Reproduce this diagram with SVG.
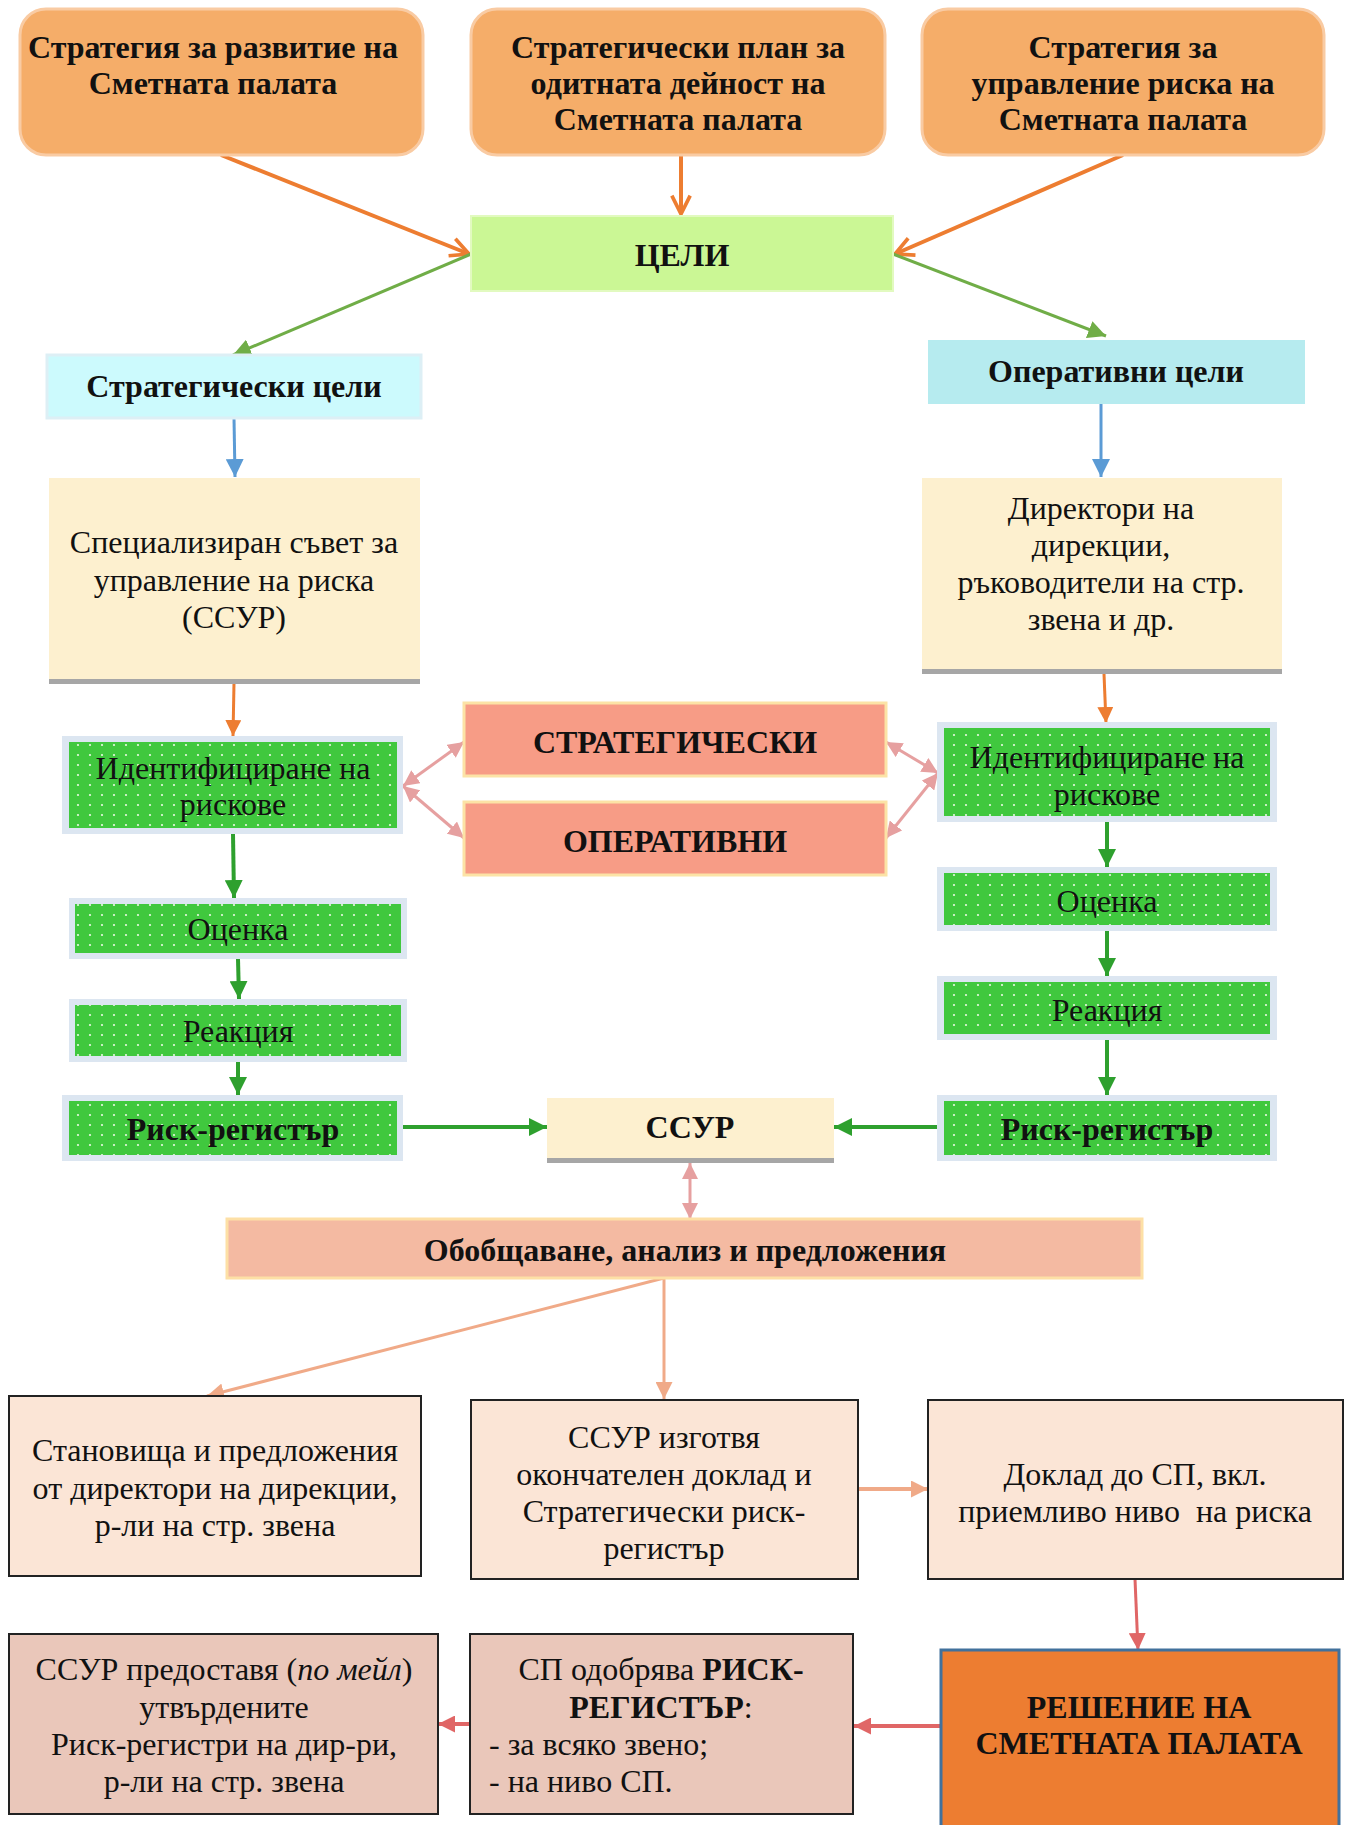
<svg xmlns="http://www.w3.org/2000/svg" width="1348" height="1825" viewBox="0 0 1348 1825">
<style>
text{font-family:"Liberation Serif","Times New Roman",serif;font-size:32px;fill:#111;text-anchor:middle}
.b{font-weight:bold}
.top{fill:#F5AD69;stroke:#F9CBA3;stroke-width:3}
.cream{fill:#FDF0CF}
.shadow{fill:#A6A6A6}
.grn{fill:url(#dots)}
.gout{fill:#DCE6F1}
.sal{fill:#F79C86;stroke:#FCE3A6;stroke-width:3}
.btm{fill:#FBE5D6;stroke:#222;stroke-width:2}
.btm2{fill:#EAC7BA;stroke:#222;stroke-width:2}
.c{fill:none}
</style>
<defs>
<pattern id="dots" width="12" height="10" patternUnits="userSpaceOnUse">
<rect width="12" height="10" fill="#40C83E"/>
<circle cx="6" cy="5" r="1.1" fill="#E8F8E0"/>
</pattern>
<marker id="oOpen" viewBox="0 0 12 12" refX="11" refY="6" markerWidth="22" markerHeight="22" markerUnits="userSpaceOnUse" orient="auto"><path d="M1,1 L11,6 L1,11" fill="none" stroke="#ED7D31" stroke-width="2"/></marker>
<marker id="oFill" viewBox="0 0 10 10" refX="10" refY="5" markerWidth="16" markerHeight="16" markerUnits="userSpaceOnUse" orient="auto"><path d="M0,0 L10,5 L0,10 z" fill="#ED7D31"/></marker>
<marker id="gLt" viewBox="0 0 10 10" refX="10" refY="5" markerWidth="18" markerHeight="18" markerUnits="userSpaceOnUse" orient="auto"><path d="M0,0 L10,5 L0,10 z" fill="#70AD47"/></marker>
<marker id="bl" viewBox="0 0 10 10" refX="10" refY="5" markerWidth="18" markerHeight="18" markerUnits="userSpaceOnUse" orient="auto"><path d="M0,0 L10,5 L0,10 z" fill="#5B9BD5"/></marker>
<marker id="gDk" viewBox="0 0 10 10" refX="10" refY="5" markerWidth="18" markerHeight="18" markerUnits="userSpaceOnUse" orient="auto"><path d="M0,0 L10,5 L0,10 z" fill="#2EA02E"/></marker>
<marker id="pk" viewBox="0 0 10 10" refX="10" refY="5" markerWidth="16" markerHeight="16" markerUnits="userSpaceOnUse" orient="auto-start-reverse"><path d="M0,0 L10,5 L0,10 z" fill="#E6A0A0"/></marker>
<marker id="sm" viewBox="0 0 10 10" refX="10" refY="5" markerWidth="17" markerHeight="17" markerUnits="userSpaceOnUse" orient="auto"><path d="M0,0 L10,5 L0,10 z" fill="#F0AA88"/></marker>
<marker id="rd" viewBox="0 0 10 10" refX="10" refY="5" markerWidth="17" markerHeight="17" markerUnits="userSpaceOnUse" orient="auto"><path d="M0,0 L10,5 L0,10 z" fill="#E06666"/></marker>
</defs>
<rect width="1348" height="1825" fill="#fff"/>

<g id="connectors" class="c">
<line x1="221" y1="155" x2="469" y2="254" stroke="#ED7D31" stroke-width="4" marker-end="url(#oOpen)"/>
<line x1="681" y1="155" x2="681" y2="214" stroke="#ED7D31" stroke-width="4" marker-end="url(#oOpen)"/>
<line x1="1123" y1="155" x2="895" y2="254" stroke="#ED7D31" stroke-width="4" marker-end="url(#oOpen)"/>
<line x1="471" y1="254" x2="233" y2="355" stroke="#70AD47" stroke-width="3" marker-end="url(#gLt)"/>
<line x1="893" y1="254" x2="1106" y2="336" stroke="#70AD47" stroke-width="3" marker-end="url(#gLt)"/>
<line x1="234" y1="418" x2="235" y2="477" stroke="#5B9BD5" stroke-width="3" marker-end="url(#bl)"/>
<line x1="1101" y1="404" x2="1101" y2="477" stroke="#5B9BD5" stroke-width="3" marker-end="url(#bl)"/>
<line x1="234" y1="683" x2="233" y2="736" stroke="#ED7D31" stroke-width="3" marker-end="url(#oFill)"/>
<line x1="1104" y1="674" x2="1106" y2="723" stroke="#ED7D31" stroke-width="3" marker-end="url(#oFill)"/>
<line x1="233" y1="834" x2="234" y2="898" stroke="#2EA02E" stroke-width="4" marker-end="url(#gDk)"/>
<line x1="238" y1="959" x2="239" y2="999" stroke="#2EA02E" stroke-width="4" marker-end="url(#gDk)"/>
<line x1="238" y1="1062" x2="238" y2="1095" stroke="#2EA02E" stroke-width="4" marker-end="url(#gDk)"/>
<line x1="1107" y1="822" x2="1107" y2="867" stroke="#2EA02E" stroke-width="4" marker-end="url(#gDk)"/>
<line x1="1107" y1="931" x2="1107" y2="976" stroke="#2EA02E" stroke-width="4" marker-end="url(#gDk)"/>
<line x1="1107" y1="1040" x2="1107" y2="1095" stroke="#2EA02E" stroke-width="4" marker-end="url(#gDk)"/>
<line x1="403" y1="1127" x2="547" y2="1127" stroke="#2EA02E" stroke-width="4" marker-end="url(#gDk)"/>
<line x1="938" y1="1127" x2="834" y2="1127" stroke="#2EA02E" stroke-width="4" marker-end="url(#gDk)"/>
<line x1="403" y1="786" x2="464" y2="742" stroke="#E6A0A0" stroke-width="3" marker-start="url(#pk)" marker-end="url(#pk)"/>
<line x1="403" y1="786" x2="464" y2="838" stroke="#E6A0A0" stroke-width="3" marker-start="url(#pk)" marker-end="url(#pk)"/>
<line x1="938" y1="773" x2="886" y2="742" stroke="#E6A0A0" stroke-width="3" marker-start="url(#pk)" marker-end="url(#pk)"/>
<line x1="938" y1="773" x2="886" y2="838" stroke="#E6A0A0" stroke-width="3" marker-start="url(#pk)" marker-end="url(#pk)"/>
<line x1="690" y1="1163" x2="690" y2="1219" stroke="#E6A0A0" stroke-width="3" marker-start="url(#pk)" marker-end="url(#pk)"/>
<line x1="664" y1="1278" x2="207" y2="1396" stroke="#F0AA88" stroke-width="3" marker-end="url(#sm)"/>
<line x1="664" y1="1278" x2="664" y2="1399" stroke="#F0AA88" stroke-width="3" marker-end="url(#sm)"/>
<line x1="858" y1="1489" x2="928" y2="1489" stroke="#F0AA88" stroke-width="4" marker-end="url(#sm)"/>
<line x1="1135" y1="1579" x2="1138" y2="1650" stroke="#E06666" stroke-width="3" marker-end="url(#rd)"/>
<line x1="941" y1="1726" x2="854" y2="1726" stroke="#E06666" stroke-width="4" marker-end="url(#rd)"/>
<line x1="470" y1="1724" x2="438" y2="1724" stroke="#E06666" stroke-width="4" marker-end="url(#rd)"/>
</g>

<g id="n-strategy-dev">
<rect class="top" x="20" y="9" width="403" height="146" rx="26"/>
<text class="b" x="213" y="58">Стратегия за развитие на</text>
<text class="b" x="213" y="94">Сметната палата</text>
</g>
<g id="n-strategic-plan">
<rect class="top" x="471" y="9" width="414" height="146" rx="26"/>
<text class="b" x="678" y="58">Стратегически план за</text>
<text class="b" x="678" y="94">одитната дейност на</text>
<text class="b" x="678" y="130">Сметната палата</text>
</g>
<g id="n-risk-strategy">
<rect class="top" x="922" y="9" width="402" height="146" rx="26"/>
<text class="b" x="1123" y="58">Стратегия за</text>
<text class="b" x="1123" y="94">управление риска на</text>
<text class="b" x="1123" y="130">Сметната палата</text>
</g>
<g id="n-goals">
<rect x="471" y="216" width="422" height="75" fill="#CBF795" stroke="#E2FAC0" stroke-width="2"/>
<text class="b" x="682" y="266">ЦЕЛИ</text>
</g>
<g id="n-strategic-goals">
<rect x="47" y="355" width="374" height="63" fill="#CCFAFD" stroke="#DDEFF5" stroke-width="3"/>
<text class="b" x="234" y="397">Стратегически цели</text>
</g>
<g id="n-operational-goals">
<rect x="928" y="340" width="377" height="64" fill="#B6EBEF"/>
<text class="b" x="1116" y="382">Оперативни цели</text>
</g>
<g id="n-council">
<rect class="cream" x="49" y="478" width="371" height="201"/>
<rect class="shadow" x="49" y="679" width="371" height="5"/>
<text x="234" y="553">Специализиран съвет за</text>
<text x="234" y="591">управление на риска</text>
<text x="234" y="628">(ССУР)</text>
</g>
<g id="n-directors">
<rect class="cream" x="922" y="478" width="360" height="191"/>
<rect class="shadow" x="922" y="669" width="360" height="5"/>
<text x="1101" y="519">Директори на</text>
<text x="1101" y="556">дирекции,</text>
<text x="1101" y="593">ръководители на стр.</text>
<text x="1101" y="630">звена и др.</text>
</g>
<g id="n-ident-left">
<rect class="gout" x="62" y="736" width="341" height="98"/>
<rect class="grn" x="69" y="742" width="328" height="86"/>
<text x="233" y="779">Идентифициране на</text>
<text x="233" y="815">рискове</text>
</g>
<g id="n-assess-left">
<rect class="gout" x="69" y="898" width="338" height="61"/>
<rect class="grn" x="75" y="904" width="326" height="49"/>
<text x="238" y="940">Оценка</text>
</g>
<g id="n-react-left">
<rect class="gout" x="69" y="999" width="338" height="63"/>
<rect class="grn" x="75" y="1005" width="326" height="51"/>
<text x="238" y="1042">Реакция</text>
</g>
<g id="n-register-left">
<rect class="gout" x="62" y="1095" width="341" height="66"/>
<rect class="grn" x="69" y="1101" width="328" height="54"/>
<text class="b" x="233" y="1140">Риск-регистър</text>
</g>
<g id="n-ident-right">
<rect class="gout" x="937" y="722" width="340" height="100"/>
<rect class="grn" x="944" y="728" width="326" height="88"/>
<text x="1107" y="768">Идентифициране на</text>
<text x="1107" y="805">рискове</text>
</g>
<g id="n-assess-right">
<rect class="gout" x="937" y="867" width="340" height="64"/>
<rect class="grn" x="944" y="873" width="326" height="52"/>
<text x="1107" y="912">Оценка</text>
</g>
<g id="n-react-right">
<rect class="gout" x="937" y="976" width="340" height="64"/>
<rect class="grn" x="944" y="982" width="326" height="52"/>
<text x="1107" y="1021">Реакция</text>
</g>
<g id="n-register-right">
<rect class="gout" x="937" y="1095" width="340" height="66"/>
<rect class="grn" x="944" y="1101" width="326" height="54"/>
<text class="b" x="1107" y="1140">Риск-регистър</text>
</g>
<g id="n-strategic">
<rect class="sal" x="464" y="703" width="422" height="73"/>
<text class="b" x="675" y="753">СТРАТЕГИЧЕСКИ</text>
</g>
<g id="n-operational">
<rect class="sal" x="464" y="802" width="422" height="73"/>
<text class="b" x="675" y="852">ОПЕРАТИВНИ</text>
</g>
<g id="n-ssur">
<rect class="cream" x="547" y="1098" width="287" height="60"/>
<rect class="shadow" x="547" y="1158" width="287" height="5"/>
<text class="b" x="690" y="1138">ССУР</text>
</g>
<g id="n-summary">
<rect x="227" y="1219" width="915" height="59" fill="#F4BAA2" stroke="#FDE0A6" stroke-width="3"/>
<text class="b" x="685" y="1261">Обобщаване, анализ и предложения</text>
</g>
<g id="n-opinions">
<rect class="btm" x="9" y="1396" width="412" height="180"/>
<text x="215" y="1461">Становища и предложения</text>
<text x="215" y="1499">от директори на дирекции,</text>
<text x="215" y="1536">р-ли на стр. звена</text>
</g>
<g id="n-final-report">
<rect class="btm" x="471" y="1400" width="387" height="179"/>
<text x="664" y="1448">ССУР изготвя</text>
<text x="664" y="1485">окончателен доклад и</text>
<text x="664" y="1522">Стратегически риск-</text>
<text x="664" y="1559">регистър</text>
</g>
<g id="n-report-sp">
<rect class="btm" x="928" y="1400" width="415" height="179"/>
<text x="1135" y="1485">Доклад до СП, вкл.</text>
<text x="1135" y="1522" xml:space="preserve">приемливо ниво  на риска</text>
</g>
<g id="n-decision">
<rect x="941" y="1650" width="398" height="180" fill="#ED7D31" stroke="#41719C" stroke-width="3"/>
<text class="b" x="1139" y="1718">РЕШЕНИЕ НА</text>
<text class="b" x="1139" y="1754">СМЕТНАТА ПАЛАТА</text>
</g>
<g id="n-approve">
<rect class="btm2" x="470" y="1634" width="383" height="180"/>
<text x="661" y="1680">СП одобрява <tspan font-weight="bold">РИСК-</tspan></text>
<text x="661" y="1718"><tspan font-weight="bold">РЕГИСТЪР</tspan>:</text>
<text x="489" y="1755" style="text-anchor:start">- за всяко звено;</text>
<text x="489" y="1792" style="text-anchor:start">- на ниво СП.</text>
</g>
<g id="n-distribute">
<rect class="btm2" x="9" y="1634" width="429" height="180"/>
<text x="224" y="1680">ССУР предоставя (<tspan font-style="italic">по мейл</tspan>)</text>
<text x="224" y="1718">утвърдените</text>
<text x="224" y="1755">Риск-регистри на дир-ри,</text>
<text x="224" y="1792">р-ли на стр. звена</text>
</g>
</svg>
